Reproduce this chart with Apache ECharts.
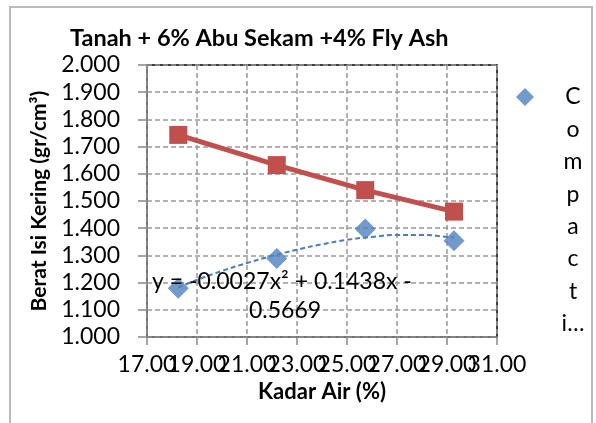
<!DOCTYPE html>
<html><head><meta charset="utf-8">
<script src="https://cdn.jsdelivr.net/npm/echarts@6/dist/echarts.min.js"></script>
<style>html,body{margin:0;padding:0;background:#fff}#c{width:596px;height:423px}</style>
</head><body><div id="c"></div>
<script>
const titleText = 'Tanah + 6% Abu Sekam +4% Fly Ash';
const xName = 'Kadar Air (%)';
const yName = 'Berat Isi Kering (gr/cm³)';
const legendName = 'Compaction';
const kadarAir = [18.25, 22.19, 25.73, 29.28];
const compaction = [1.179, 1.289, 1.397, 1.354];
const zav = [1.743, 1.632, 1.540, 1.461];
const trendX = [18.25, 19, 20, 21, 22, 23, 24, 25, 26, 27, 28, 29, 29.28];
const trendY = [1.182, 1.210, 1.243, 1.272, 1.298, 1.321, 1.341, 1.357, 1.368, 1.375, 1.375, 1.368, 1.365];
const xTickLabels = ['17.00', '19.00', '21.00', '23.00', '25.00', '27.00', '29.00', '31.00'];
const equationLines = ['y = -0.0027x\u00b2 + 0.1438x -', '0.5669'];

const FONT = 'Lato';
const X_MIN = 17, X_MAX = 31, X_STEP = 2;
const chart = echarts.init(document.getElementById('c'));
const pair = (xs, ys) => xs.map((x, i) => [x, ys[i]]);

function legendText(name) {
  const letters = name.slice(0, 7).split('').concat(['i…']);
  const blanks = letters.map(() => '{t| }').slice(1);
  return blanks.concat(letters.map(l => '{t|' + l + '}')).join('\n');
}
// labels are split over two overlaid axes so that all overlapping labels stay visible
function xLabel(parity) {
  return v => {
    const i = Math.round((v - X_MIN) / X_STEP);
    return i % 2 === parity ? xTickLabels[i] : '';
  };
}
const xLabelStyle = { fontFamily: FONT, fontSize: 23, color: '#000', margin: 16, showMinLabel: true, showMaxLabel: true, hideOverlap: false };

chart.setOption({
  animation: false,
  backgroundColor: '#fff',
  textStyle: { fontFamily: FONT },
  title: {
    text: titleText, left: 65, top: 21,
    textStyle: { fontFamily: FONT, fontWeight: 'bold', fontSize: 23.5, color: '#000' }
  },
  grid: { left: 147, right: 99, top: 65, bottom: 86, show: true, borderColor: '#000', borderWidth: 1.5, backgroundColor: 'transparent' },
  legend: {
    data: [legendName], left: 511, top: 96 - 240 - 7, icon: 'diamond', itemWidth: 18, itemHeight: 18, itemGap: 0,
    formatter: legendText,
    textStyle: {
      fontFamily: FONT, fontSize: 23, color: '#000', lineHeight: 32.4,
      rich: { t: { fontFamily: FONT, fontSize: 23, color: '#000', lineHeight: 32.4, width: 24, align: 'center', padding: [0, 0, 0, 22] } }
    }
  },
  xAxis: [{
    type: 'value', min: X_MIN, max: X_MAX, interval: X_STEP, position: 'bottom',
    name: xName, nameLocation: 'middle', nameGap: 42,
    nameTextStyle: { fontFamily: FONT, fontWeight: 'bold', fontSize: 22, color: '#000' },
    axisLine: { lineStyle: { color: '#888', width: 1.5 } },
    axisTick: { show: true, length: 8, lineStyle: { color: '#888', width: 1.5 } },
    axisLabel: Object.assign({ formatter: xLabel(0) }, xLabelStyle),
    splitLine: { lineStyle: { color: '#999', type: [5, 3], width: 1.5 } }
  }, {
    type: 'value', min: X_MIN, max: X_MAX, interval: X_STEP, position: 'bottom', offset: 0,
    axisLine: { show: false }, axisTick: { show: false }, splitLine: { show: false },
    axisLabel: Object.assign({ formatter: xLabel(1) }, xLabelStyle)
  }],
  yAxis: {
    type: 'value', min: 1, max: 2, interval: 0.1,
    name: yName, nameLocation: 'middle', nameGap: 97,
    nameTextStyle: { fontFamily: FONT, fontWeight: 'bold', fontSize: 21, color: '#000' },
    axisLine: { show: true, lineStyle: { color: '#888', width: 1.5 } },
    axisTick: { show: true, length: 9, lineStyle: { color: '#888', width: 1.5 } },
    axisLabel: { formatter: v => v.toFixed(3), fontFamily: FONT, fontSize: 23, color: '#000', margin: 27,
      showMinLabel: true, showMaxLabel: true },
    splitLine: { lineStyle: { color: '#999', type: [5, 3], width: 1.5 } }
  },
  series: [
    { name: 'Trend', type: 'line', data: pair(trendX, trendY), smooth: true, showSymbol: false, symbol: 'none',
      lineStyle: { color: '#4a7ebb', width: 2, type: [5, 3] }, z: 2, silent: true },
    { name: legendName, type: 'scatter', data: pair(kadarAir, compaction), symbol: 'diamond', symbolSize: 21,
      itemStyle: { color: '#4f81bd' }, z: 3 },
    { name: 'ZAV', type: 'line', data: pair(kadarAir, zav), symbol: 'rect', symbolSize: 18, showSymbol: true,
      lineStyle: { color: '#c0504d', width: 5 }, itemStyle: { color: '#c0504d' }, z: 4 }
  ],
  graphic: [
    { type: 'rect', shape: { x: 10, y: 7, width: 582, height: 430 }, style: { fill: 'none', stroke: '#bbb', lineWidth: 2 }, z: -1, silent: true },
    { type: 'text', x: 152, y: 282, z: 10, style: { text: equationLines[0], font: '23px ' + FONT, fill: '#000', verticalAlign: 'middle' } },
    { type: 'text', x: 285, y: 311, z: 10, style: { text: equationLines[1], font: '23px ' + FONT, fill: '#000', align: 'center', verticalAlign: 'middle' } }
  ]
});
</script></body></html>
